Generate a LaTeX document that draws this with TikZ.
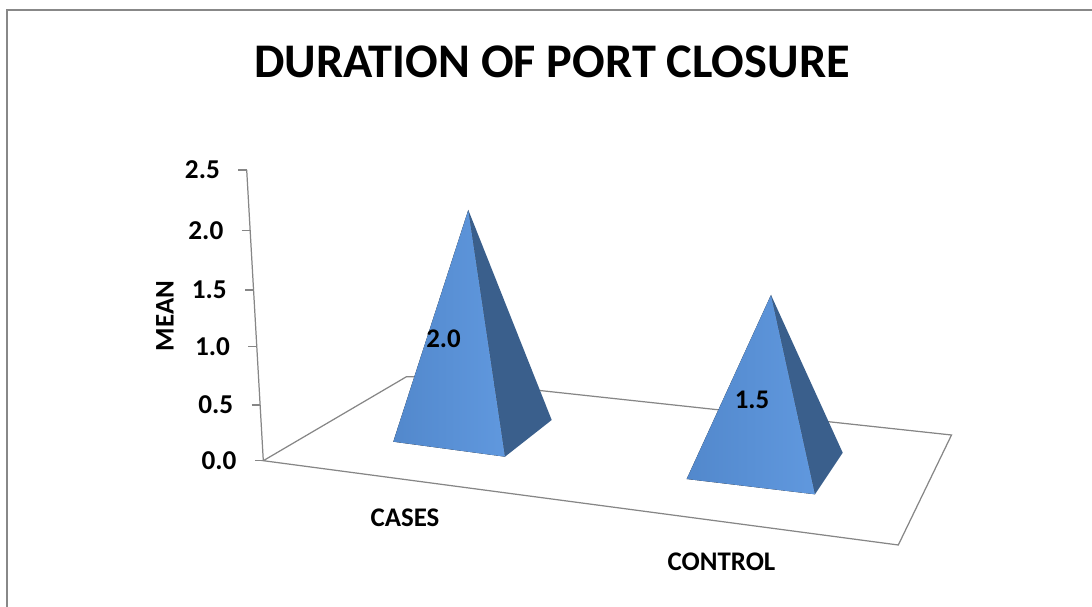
\documentclass[tikz,border=0pt]{standalone}
\usepackage{fontspec}
\setmainfont{Carlito}
\definecolor{framegray}{RGB}{136,136,136}
\definecolor{axisgray}{RGB}{134,134,134}
\definecolor{barlo}{RGB}{82,136,204}
\definecolor{barhi}{RGB}{96,152,222}
\definecolor{bardark}{RGB}{58,95,140}
\begin{document}
\begin{tikzpicture}[x=0.02cm,y=-0.02cm,
  frame/.style={draw=framegray, line width=1.2pt},
  axisline/.style={draw=axisgray, line width=0.7pt},
  ticklabel/.style={font=\fontsize{15.5}{17}\selectfont\bfseries, anchor=east, inner sep=0pt},
  catlabel/.style={font=\fontsize{15.3}{17}\selectfont\bfseries, inner sep=0pt},
  valuelabel/.style={font=\fontsize{15.3}{17}\selectfont\bfseries, inner sep=0pt},
  litface/.style={left color=barlo, right color=barhi, draw=none},
  darkface/.style={fill=bardark, draw=none}]
\useasboundingbox (0,0) rectangle (1092,607);

% chart frame (top and left edges)
\coordinate (fbl) at (7,607);
\coordinate (ftl) at (7,10);
\coordinate (ftr) at (1092,10);
\draw[frame] (fbl) -- (ftl) -- (ftr);

% title
\node[font=\fontsize{27.5}{32}\selectfont\bfseries, inner sep=0pt] (title) at (552,61.5) {DURATION OF PORT CLOSURE};

% value axis
\coordinate (axtop) at (246.7,170);
\coordinate (axbot) at (263.3,460.7);
\draw[axisline] (axtop) -- (axbot);
\foreach \v/\yy/\name in {2.5/170/t25, 2.0/230.5/t20, 1.5/290/t15, 1.0/346.7/t10, 0.5/405/t05, 0.0/460.7/t00}{
  \pgfmathsetmacro{\xx}{246.7+(\yy-170)*16.6/290.7}
  \coordinate (\name r) at (\xx,\yy);
  \coordinate (\name l) at (\xx-8.5,\yy);
  \draw[axisline] (\name l) -- (\name r);
  \node[ticklabel] (\name) at (\xx-26.5,\yy) {\v};
}
\node[catlabel, rotate=90] (mean) at (165,316) {MEAN};

% floor of the plot
\coordinate (flo) at (263.3,460.7);
\coordinate (fback) at (406.5,376.7);
\coordinate (fback2) at (412,376.7);
\coordinate (fright) at (951.5,435);
\coordinate (ffront) at (898.3,545);
\draw[axisline] (flo) -- (fback) -- (fback2) -- (fright) -- (ffront) -- cycle;

% pyramid for CASES
\coordinate (aA) at (468.3,210);
\coordinate (aL) at (393.3,441.7);
\coordinate (aF) at (505,456.7);
\coordinate (aR) at (551.7,420);
\fill[darkface] (aA) -- (aF) -- (aR) -- cycle;
\fill[litface] (aA) -- (aL) -- (aF) -- cycle;
\node[valuelabel] (vcases) at (443.5,338.5) {2.0};

% pyramid for CONTROL
\coordinate (bA) at (771,295);
\coordinate (bL) at (686.7,479);
\coordinate (bF) at (815,494.3);
\coordinate (bR) at (842.7,452.7);
\fill[darkface] (bA) -- (bF) -- (bR) -- cycle;
\fill[litface] (bA) -- (bL) -- (bF) -- cycle;
\node[valuelabel] (vcontrol) at (752,400) {1.5};

% category labels
\node[catlabel] (cases) at (405,518) {CASES};
\node[catlabel] (control) at (721.5,562) {CONTROL};
\end{tikzpicture}
\end{document}
